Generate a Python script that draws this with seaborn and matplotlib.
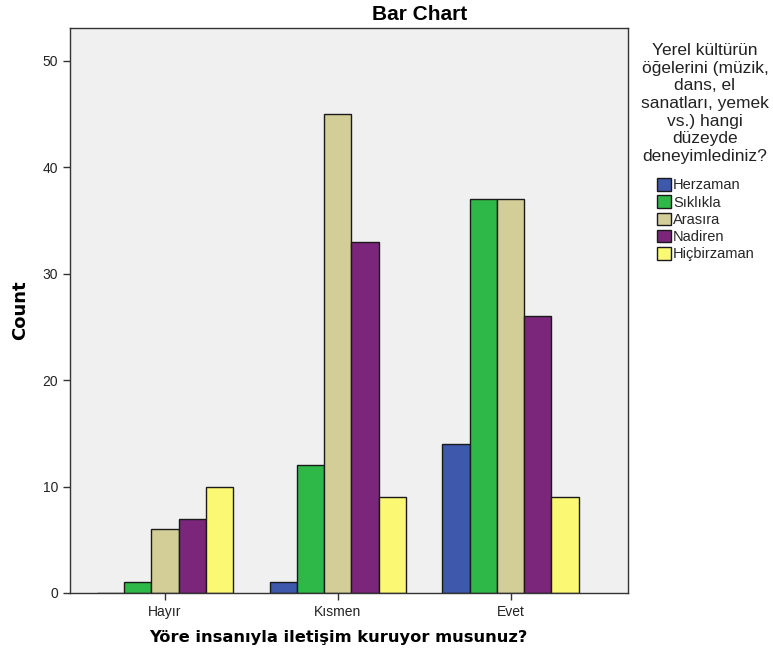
import numpy as np
import pandas as pd
import matplotlib
matplotlib.use("Agg")
import matplotlib.pyplot as plt
import seaborn as sns

sns.set_style("white")
plt.rcParams['font.family'] = ['Liberation Sans', 'DejaVu Sans']

# data
groups = ["Hayır", "Kısmen", "Evet"]
levels = ["Herzaman", "Sıklıkla", "Arasıra", "Nadiren", "Hiçbirzaman"]
herzaman = [0, 1, 14]
siklikla = [1, 12, 37]
arasira = [6, 45, 37]
nadiren = [7, 33, 26]
hicbirzaman = [10, 9, 9]
colors = ["#3E58AC", "#2EB848", "#D3CE97", "#7B267B", "#FBF873"]
legend_title = "Yerel kültürün\nöğelerini (müzik,\ndans, el\nsanatları, yemek\nvs.) hangi\ndüzeyde\ndeneyimlediniz?"

rows = []
for lvl, vals in zip(levels, [herzaman, siklikla, arasira, nadiren, hicbirzaman]):
    for g, v in zip(groups, vals):
        rows.append({"group": g, "level": lvl, "count": v})
df = pd.DataFrame(rows)

W, H = 773, 660
fig = plt.figure(figsize=(W / 100, H / 100), dpi=100)
ax = fig.add_axes([70 / W, 1 - 593 / H, 558 / W, 565 / H])
ax.set_facecolor("#F0F0F0")

sns.barplot(data=df, x="group", y="count", hue="level", order=groups,
            hue_order=levels, palette=colors, width=0.79, gap=0,
            edgecolor="#1a1a1a", linewidth=1, saturation=1, ax=ax)

ax.set_xlim(-0.55, 2.68)
ax.set_ylim(0, 53.1)
ax.set_yticks([0, 10, 20, 30, 40, 50])
ax.tick_params(axis="both", direction="out", length=5, width=1, labelsize=10,
               color="#333333", labelcolor="#222222", bottom=True, left=True)
for s in ax.spines.values():
    s.set_color("#333333")
    s.set_linewidth(1)

ax.set_xlabel("Yöre insanıyla iletişim kuruyor musunuz?", fontsize=11.7,
              fontweight="bold", family=["DejaVu Sans"], color="black")
ax.xaxis.set_label_coords(0.48, -0.066)
ax.set_ylabel("Count", fontsize=13, fontweight="bold", labelpad=10,
              family=["DejaVu Sans"], color="black")
fig.text(420 / W, 1 - 15 / H, "Bar Chart", fontsize=15, fontweight="bold",
         ha="center", va="center", color="black")

# legend: title as separate text, entries below
fig.text(705 / W, 1 - 43 / H, legend_title, fontsize=12.5, ha="center",
         va="top", multialignment="center", color="#222222", linespacing=1.22)

handles, labels = ax.get_legend_handles_labels()
ax.legend_.remove()
fig.legend(handles, labels, loc="upper left",
           bbox_to_anchor=(657 / W, 1 - 178 / H), frameon=False,
           fontsize=10.5, handlelength=0.96, handleheight=0.96,
           handletextpad=0.15, labelspacing=0.2, borderpad=0, borderaxespad=0)

fig.savefig("out.png", dpi=100)
